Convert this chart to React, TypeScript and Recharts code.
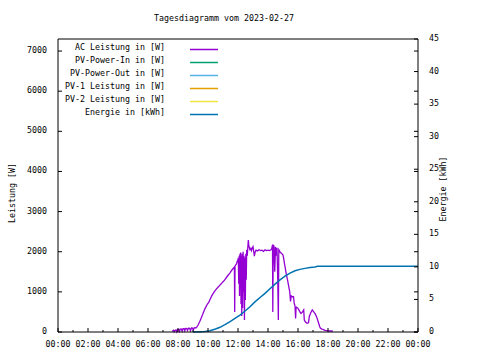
import { LineChart, Line, XAxis, YAxis } from "recharts";

// AC power samples (hour of day, watts)
const acHours = [
  7.62, 7.7, 7.75, 7.8, 7.88, 7.92, 7.98, 8.05, 8.1, 8.15, 8.22, 8.28, 8.33, 8.4, 8.45, 8.5, 8.58, 8.63, 8.7, 8.78,
  8.83, 8.9, 8.97, 9.02, 9.08, 9.15, 9.2, 9.25, 9.35, 9.45, 9.55, 9.65, 9.75, 9.85, 9.95, 10.05, 10.15, 10.25, 10.35,
  10.45, 10.55, 10.65, 10.75, 10.85, 10.95, 11.05, 11.15, 11.25, 11.35, 11.45, 11.55, 11.65, 11.72, 11.76, 11.78, 11.8,
  11.9, 11.95, 12.0, 12.02, 12.05, 12.08, 12.1, 12.13, 12.16, 12.18, 12.2, 12.23, 12.25, 12.28, 12.31, 12.34, 12.37,
  12.4, 12.43, 12.46, 12.49, 12.52, 12.55, 12.58, 12.62, 12.66, 12.69, 12.72, 12.76, 12.8, 12.85, 12.9, 12.95, 13.0,
  13.05, 13.09, 13.15, 13.2, 13.3, 13.4, 13.5, 13.6, 13.7, 13.8, 13.9, 14.0, 14.1, 14.2, 14.25, 14.3, 14.32, 14.35,
  14.4, 14.45, 14.5, 14.55, 14.6, 14.65, 14.69, 14.72, 14.77, 14.82, 14.9, 15.0, 15.05, 15.1, 15.15, 15.2, 15.3, 15.4,
  15.45, 15.5, 15.55, 15.65, 15.7, 15.75, 15.78, 15.8, 15.84, 15.87, 15.9, 16.0, 16.1, 16.2, 16.3, 16.38, 16.42, 16.5,
  16.6, 16.7, 16.75, 16.85, 16.95, 17.05, 17.15, 17.25, 17.35, 17.45, 17.5, 17.6, 17.7, 17.8, 17.9, 18.0, 18.1, 18.2,
  18.33,
];
const acWatts = [
  20, 45, 10, 40, 50, 5, 60, 65, 15, 70, 75, 20, 80, 85, 30, 85, 90, 40, 95, 90,
  35, 100, 95, 45, 105, 110, 100, 120, 180, 260, 350, 440, 540, 620, 690, 740, 820, 900, 960,
  1020, 1070, 1110, 1150, 1190, 1230, 1270, 1320, 1370, 1420, 1460, 1520, 1570, 1600, 1620, 500, 1640,
  1700, 1760, 1800, 1850, 1200, 1900, 900, 1950, 1500, 1980, 700, 1900, 400, 1950, 600, 2000, 1000,
  1900, 300, 1850, 800, 1950, 1300, 2050, 1900, 2150, 2290, 2150, 2100, 2050, 2080, 2030, 2100, 2130,
  2000, 1890, 2000, 2040, 2020, 2050, 2030, 2040, 2010, 2050, 2030, 2040, 2030, 2050, 2080, 2170, 500, 2160,
  2140, 1500, 2120, 1900, 2100, 1300, 300, 2050, 2020, 1980, 1960, 1920, 1820, 1700, 1600, 1480, 1300, 1100,
  1000, 760, 900, 870, 880, 700, 680, 650, 340, 600, 620, 590, 520, 460, 500, 550, 300, 250,
  220, 230, 380, 480, 550, 500, 450, 370, 250, 130, 90, 70, 60, 40, 35, 30, 25, 30,
  20,
];

// cumulative energy (hour of day, kWh)
const energyHours = [
  9.0, 9.6, 10.13, 10.5, 10.8, 11.13, 11.47, 11.8, 12.13, 12.47, 12.8, 13.13, 13.47, 13.8, 14.13, 14.47, 14.8,
  15.13, 15.47, 15.8, 16.13, 16.47, 16.8, 17.13, 17.3, 24,
];
const energyKwh = [
  0, 0.02, 0.2, 0.45, 0.72, 1.12, 1.58, 2.08, 2.6, 3.22, 3.88, 4.62, 5.3, 5.93, 6.65, 7.36, 8.0,
  8.59, 9.05, 9.4, 9.62, 9.77, 9.9, 10.0, 10.1, 10.1,
];

const legendNames = [
  "AC Leistung in [W]",
  "PV-Power-In in [W]",
  "PV-Power-Out in [W]",
  "PV-1 Leistung in [W]",
  "PV-2 Leistung in [W]",
  "Energie in [kWh]",
];
const legendColors = ["#9400d3", "#009e73", "#56b4e9", "#e69f00", "#f0e442", "#0072b2"];

const hourTicks = Array.from({ length: 25 }, (_, i) => i);
const wattTicks = [0, 1000, 2000, 3000, 4000, 5000, 6000, 7000];
const kwhTicks = [0, 5, 10, 15, 20, 25, 30, 35, 40, 45];

const PLOT = { left: 58, right: 418, top: 39, bottom: 332 };
const FONT = "'DejaVu Sans Mono', 'Liberation Mono', monospace";
const FS = 8.3;

const acData = acHours.map((t, i) => ({ t, w: acWatts[i] }));
const energyData = energyHours.map((t, i) => ({ t, e: energyKwh[i] }));

function hourLabel(h: number) {
  return `${String(h % 24).padStart(2, "0")}:00`;
}

function BottomTick({ x, payload }: any) {
  const h = payload.value;
  const major = h % 2 === 0;
  return (
    <g>
      <line x1={x} x2={x} y1={PLOT.bottom} y2={PLOT.bottom - (major ? 4 : 2)} stroke="#000" />
      {major && (
        <text x={x} y={PLOT.bottom + 15} textAnchor="middle" fontFamily={FONT} fontSize={FS} fill="#000">
          {hourLabel(h)}
        </text>
      )}
    </g>
  );
}

function TopTick({ x, payload }: any) {
  const major = payload.value % 2 === 0;
  return <line x1={x} x2={x} y1={PLOT.top} y2={PLOT.top + (major ? 4 : 2)} stroke="#000" />;
}

function LeftTick({ y, payload }: any) {
  return (
    <g>
      <line x1={PLOT.left} x2={PLOT.left + 4} y1={y} y2={y} stroke="#000" />
      <line x1={PLOT.right} x2={PLOT.right - 4} y1={y} y2={y} stroke="#000" />
      <text x={PLOT.left - 11} y={y + 2} textAnchor="end" fontFamily={FONT} fontSize={FS} fill="#000">
        {payload.value}
      </text>
    </g>
  );
}

function RightTick({ y, payload }: any) {
  return (
    <g>
      <line x1={PLOT.right} x2={PLOT.right - 4} y1={y} y2={y} stroke="#000" />
      <text x={PLOT.right + 11} y={y + 2} textAnchor="start" fontFamily={FONT} fontSize={FS} fill="#000">
        {payload.value}
      </text>
    </g>
  );
}

export default function App() {
  return (
    <div style={{ position: "absolute", left: 0, top: 0, width: 480, height: 360, background: "#fff" }}>
      <LineChart width={480} height={360} margin={{ top: PLOT.top - 1, right: 22, bottom: 8, left: 18 }}>
        <XAxis
          xAxisId="bottom"
          dataKey="t"
          type="number"
          domain={[0, 24]}
          ticks={hourTicks}
          interval={0}
          height={20}
          tickLine={false}
          tick={<BottomTick />}
          axisLine={{ stroke: "#000" }}
        />
        <XAxis
          xAxisId="top"
          orientation="top"
          type="number"
          domain={[0, 24]}
          ticks={hourTicks}
          interval={0}
          height={1}
          tickLine={false}
          tick={<TopTick />}
          axisLine={{ stroke: "#000" }}
        />
        <YAxis
          yAxisId="left"
          type="number"
          domain={[0, 7300]}
          ticks={wattTicks}
          interval={0}
          width={40}
          tickLine={false}
          tick={<LeftTick />}
          axisLine={{ stroke: "#000" }}
        />
        <YAxis
          yAxisId="right"
          orientation="right"
          type="number"
          domain={[0, 45]}
          ticks={kwhTicks}
          interval={0}
          width={40}
          tickLine={false}
          tick={<RightTick />}
          axisLine={{ stroke: "#000" }}
        />
        <Line
          data={acData}
          dataKey="w"
          xAxisId="bottom"
          yAxisId="left"
          type="linear"
          stroke={legendColors[0]}
          strokeWidth={1.3}
          dot={false}
          isAnimationActive={false}
        />
        <Line
          data={energyData}
          dataKey="e"
          xAxisId="bottom"
          yAxisId="right"
          type="linear"
          stroke={legendColors[5]}
          strokeWidth={1.5}
          dot={false}
          isAnimationActive={false}
        />
      </LineChart>
      <svg width={480} height={360} style={{ position: "absolute", left: 0, top: 0, pointerEvents: "none" }}>
        <text x={224} y={21} textAnchor="middle" fontFamily={FONT} fontSize={FS} fill="#000">
          Tagesdiagramm vom 2023-02-27
        </text>
        <text
          x={12}
          y={193}
          textAnchor="middle"
          dominantBaseline="central"
          transform="rotate(-90 12 193)"
          fontFamily={FONT}
          fontSize={FS}
          fill="#000"
        >
          Leistung [W]
        </text>
        <text
          x={443}
          y={189}
          textAnchor="middle"
          dominantBaseline="central"
          transform="rotate(-90 443 189)"
          fontFamily={FONT}
          fontSize={FS}
          fill="#000"
        >
          Energie [kWh]
        </text>
        {legendNames.map((name, i) => (
          <g key={name}>
            <text x={165} y={50 + i * 13} textAnchor="end" fontFamily={FONT} fontSize={FS} fill="#000">
              {name}
            </text>
            <line x1={190} x2={218} y1={49.5 + i * 13} y2={49.5 + i * 13} stroke={legendColors[i]} strokeWidth={1.5} />
          </g>
        ))}
      </svg>
    </div>
  );
}
